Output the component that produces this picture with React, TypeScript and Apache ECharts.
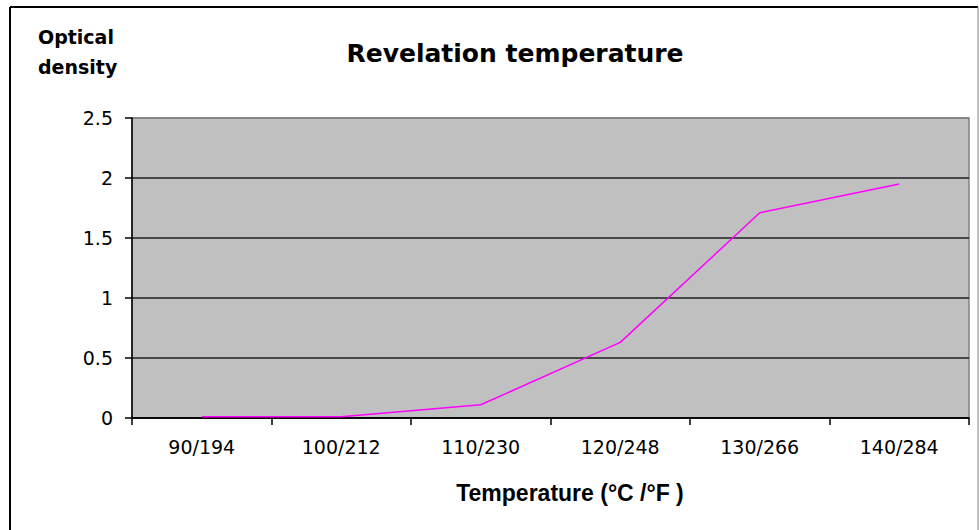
import React, { useEffect, useRef } from "react";
import * as echarts from "echarts";

const categories = ["90/194", "100/212", "110/230", "120/248", "130/266", "140/284"];
const densityValues = [0.01, 0.01, 0.11, 0.63, 1.71, 1.95];
const yTicks = [0, 0.5, 1, 1.5, 2, 2.5];

export default function App() {
  const ref = useRef<HTMLDivElement>(null);
  useEffect(() => {
    if (!ref.current) return;
    const chart = echarts.init(ref.current, null, { renderer: "svg" });
    chart.setOption({
      animation: false,
      backgroundColor: "#ffffff",
      title: {
        text: "Revelation temperature",
        left: 510,
        top: 36,
        textAlign: "center",
        textStyle: {
          fontFamily: "DejaVu Sans",
          fontWeight: "bold",
          fontSize: 25,
          color: "#000",
        },
      },
      graphic: [
        { type: "line", shape: { x1: 10, y1: 7, x2: 10, y2: 530 }, style: { stroke: "#000", lineWidth: 2 } },
        { type: "line", shape: { x1: 10, y1: 7, x2: 978, y2: 7 }, style: { stroke: "#000", lineWidth: 2 } },
        { type: "line", shape: { x1: 978, y1: 7, x2: 978, y2: 530 }, style: { stroke: "#808080", lineWidth: 1 } },
        {
          type: "text",
          left: 38,
          top: 22,
          style: {
            text: "Optical\ndensity",
            fontFamily: "DejaVu Sans",
            fontWeight: "bold",
            fontSize: 19,
            lineHeight: 30,
            fill: "#000",
          },
        },
        {
          type: "text",
          x: 570,
          y: 493,
          style: {
            text: "Temperature (°C /°F )",
            fontFamily: "Liberation Sans",
            fontWeight: "bold",
            fontSize: 23,
            fill: "#000",
            align: "center",
            verticalAlign: "middle",
          },
        },
      ],
      grid: {
        left: 132,
        right: 10,
        top: 118,
        bottom: 112,
        show: true,
        backgroundColor: "#c0c0c0",
        borderColor: "#808080",
        borderWidth: 1.5,
      },
      xAxis: {
        type: "category",
        data: categories,
        boundaryGap: true,
        axisLine: { show: true, lineStyle: { color: "#000", width: 1.5 } },
        axisTick: { show: true, length: 7, alignWithLabel: false, lineStyle: { color: "#000", width: 1.5 } },
        axisLabel: {
          fontFamily: "DejaVu Sans",
          fontSize: 19,
          color: "#000",
          margin: 19,
        },
        splitLine: { show: false },
      },
      yAxis: {
        type: "value",
        min: yTicks[0],
        max: yTicks[yTicks.length - 1],
        interval: 0.5,
        axisLine: { show: true, lineStyle: { color: "#000", width: 1.5 } },
        axisTick: { show: true, length: 7, lineStyle: { color: "#000", width: 1.5 } },
        axisLabel: {
          fontFamily: "DejaVu Sans",
          fontSize: 19,
          color: "#000",
          margin: 19,
        },
        splitLine: {
          show: true,
          lineStyle: {
            color: ["#000", "#222", "#222", "#222", "#222", "#808080"],
            width: 1.5,
          },
        },
      },
      series: [
        {
          type: "line",
          data: densityValues,
          symbol: "none",
          lineStyle: { color: "#ff00ff", width: 1.5 },
        },
      ],
    });
    return () => chart.dispose();
  }, []);
  return <div ref={ref} style={{ width: 979, height: 530, position: "absolute", left: 0, top: 0 }} />;
}
